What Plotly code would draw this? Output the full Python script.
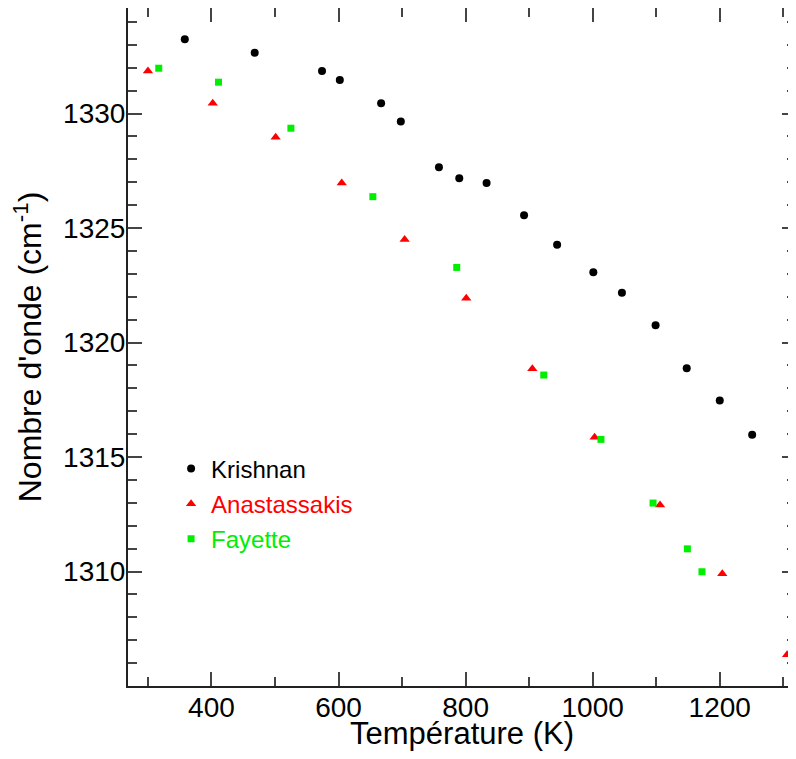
import plotly.graph_objects as go

# Krishnan (black circles)
krishnan_T = [358, 468, 574, 602, 667, 698, 758, 790, 833, 892, 944, 1001, 1046, 1099, 1148, 1200, 1251]
krishnan_w = [1333.25, 1332.66, 1331.86, 1331.47, 1330.45, 1329.65, 1327.66, 1327.17, 1326.97,
              1325.56, 1324.27, 1323.07, 1322.17, 1320.76, 1318.88, 1317.47, 1315.97]

# Anastassakis (red triangles)
anast_T = [300, 402, 501, 605, 704, 801, 905, 1003, 1106, 1204, 1306]
anast_w = [1331.86, 1330.45, 1328.97, 1326.97, 1324.5, 1321.93, 1318.86, 1315.86, 1312.9, 1309.9, 1306.37]

# Fayette (green squares)
fayette_T = [317, 411, 525, 654, 786, 923, 1013, 1095, 1149, 1172]
fayette_w = [1331.98, 1331.37, 1329.36, 1326.37, 1323.28, 1318.58, 1315.77, 1312.99, 1310.99, 1309.99]

x_ticks = [400, 600, 800, 1000, 1200]
y_ticks = [1310, 1315, 1320, 1325, 1330]

FONT = "Liberation Sans, Arial, sans-serif"
RED = "#ff0000"
GREEN = "#00ee00"

fig = go.Figure()
fig.add_trace(go.Scatter(x=krishnan_T, y=krishnan_w, mode="markers",
                         name="<span style='color:black'>Krishnan</span>",
                         legendgroup="a", cliponaxis=False,
                         marker=dict(symbol="circle", size=8, color="black")))
fig.add_trace(go.Scatter(x=anast_T, y=anast_w, mode="markers",
                         name=f"<span style='color:{RED}'>Anastassakis</span>",
                         legendgroup="b", cliponaxis=False,
                         marker=dict(symbol="triangle-up", size=9, color=RED)))
fig.add_trace(go.Scatter(x=fayette_T, y=fayette_w, mode="markers",
                         name=f"<span style='color:{GREEN}'>Fayette</span>",
                         legendgroup="c", cliponaxis=False,
                         marker=dict(symbol="square", size=7, color=GREEN)))

axis_common = dict(
    showline=True, linewidth=2, linecolor="#222222", mirror="ticks",
    ticks="inside", ticklen=14, tickwidth=1.5, tickcolor="#444444",
    showgrid=False, zeroline=False, automargin=False,
    tickfont=dict(family=FONT, size=28, color="black"),
)

fig.update_xaxes(
    range=[268.6, 1320], tickvals=x_ticks, ticktext=[str(v) for v in x_ticks],
    minor=dict(dtick=100, tick0=300, ticks="inside", ticklen=9, tickwidth=1.5, tickcolor="#444444"),
    title=dict(text="Température (K)", font=dict(family=FONT, size=31, color="black"), standoff=10),
    ticklabelstandoff=-5,
    **axis_common,
)
fig.update_yaxes(
    range=[1305.0, 1334.61], tickvals=y_ticks, ticktext=[str(v) for v in y_ticks],
    minor=dict(dtick=1, tick0=1305, ticks="inside", ticklen=9, tickwidth=1.5, tickcolor="#444444"),
    title=dict(text="Nombre d'onde (cm<sup>-1</sup>)", font=dict(family=FONT, size=32, color="black"), standoff=22),
    ticklabelstandoff=-5,
    **axis_common,
)

# the page adds an 8 px body margin, so the figure is sized to fit inside it
fig.update_layout(
    width=788, height=743,
    margin=dict(l=120, r=0, t=0, b=65),
    paper_bgcolor="white", plot_bgcolor="white",
    font=dict(family=FONT, color="black"),
    showlegend=True,
    legend=dict(x=0.0645, y=0.3535, xanchor="left", yanchor="top",
                bgcolor="rgba(0,0,0,0)", borderwidth=0,
                font=dict(family=FONT, size=24),
                tracegroupgap=1, traceorder="grouped"),
)

fig.write_html("out.html")
